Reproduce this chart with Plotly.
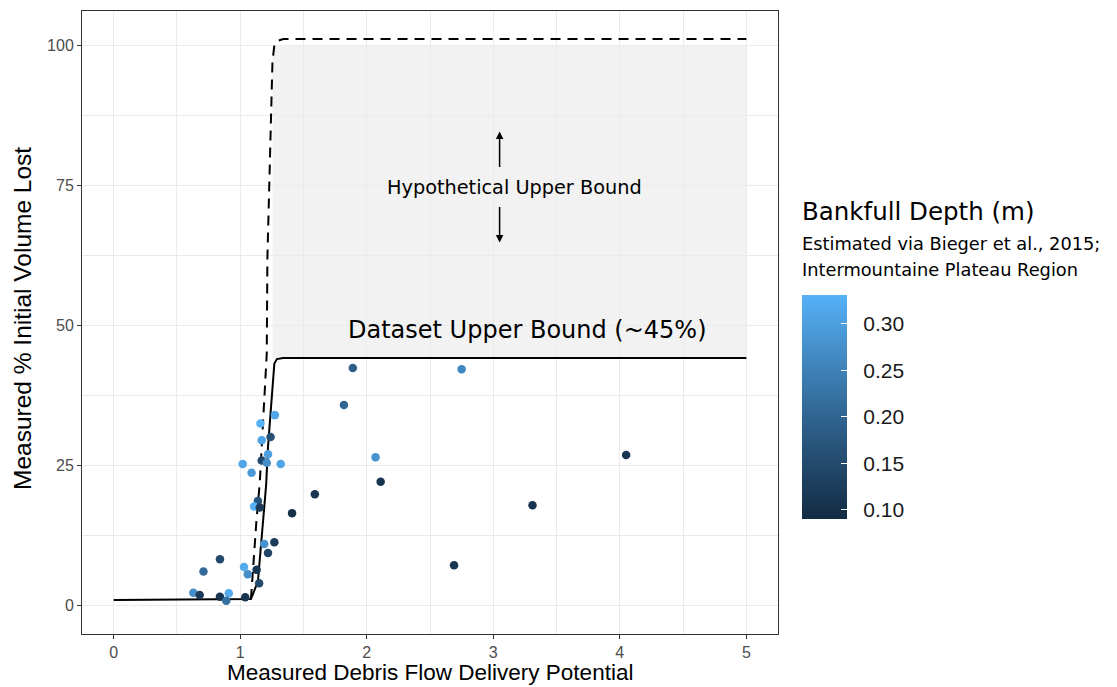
import plotly.graph_objects as go

# Measured points: delivery potential, % volume lost, bankfull depth (m)
delivery_potential = [2.75, 1.89, 1.82, 2.07, 2.11, 1.59, 1.41, 4.05, 3.31, 2.69,
                      1.274, 1.16, 1.17, 1.24, 1.22, 1.17, 1.21, 1.02, 1.32, 1.09,
                      1.14, 1.11, 1.155, 1.19, 1.27, 1.22, 1.03, 1.06, 1.13, 1.15,
                      0.91, 1.04, 0.84, 0.71, 0.63, 0.68, 0.84, 0.89]
volume_lost_pct = [42.2, 42.4, 35.8, 26.5, 22.1, 19.9, 16.5, 26.9, 17.9, 7.2,
                   34.0, 32.5, 29.5, 30.1, 27.0, 25.9, 25.5, 25.3, 25.3, 23.7,
                   18.7, 17.7, 17.5, 11.0, 11.3, 9.4, 6.9, 5.6, 6.4, 4.0,
                   2.2, 1.5, 8.3, 6.1, 2.3, 1.9, 1.6, 0.9]
bankfull_depth = [0.26, 0.19, 0.20, 0.28, 0.11, 0.11, 0.10, 0.11, 0.11, 0.11,
                  0.31, 0.33, 0.31, 0.16, 0.30, 0.15, 0.27, 0.31, 0.31, 0.29,
                  0.17, 0.33, 0.12, 0.28, 0.12, 0.14, 0.32, 0.27, 0.11, 0.15,
                  0.32, 0.11, 0.15, 0.21, 0.27, 0.12, 0.11, 0.22]

# Fitted dataset upper bound (~45%)
dataset_bound_x = [0, 1.085, 1.14, 1.163, 1.19, 1.205, 1.22, 1.248, 1.26, 1.27, 1.29, 1.34, 5]
dataset_bound_y = [1.0, 1.2, 4.3, 10.3, 16.2, 21.5, 28.4, 36.5, 40.0, 43.2, 44.0, 44.2, 44.2]

# Hypothetical upper bound (100%)
hypo_bound_x = [1.085, 1.094, 1.128, 1.155, 1.19, 1.21, 1.215, 1.235, 1.25, 1.255, 1.27, 1.30, 1.34, 5]
hypo_bound_y = [1.2, 4.3, 15.0, 22.0, 36.5, 45.0, 62.0, 80.0, 92.0, 97.0, 100.0, 100.8, 101.1, 101.1]

# Shaded band between the two bounds
band_x = [1.255, 5]
band_y = [44.2, 100]

x_ticks = [0, 1, 2, 3, 4, 5]
y_ticks = [0, 25, 50, 75, 100]
cbar_ticks = [0.10, 0.15, 0.20, 0.25, 0.30]

NBSP = "\u00a0"

fig = go.Figure()

fig.add_trace(go.Scatter(
    x=dataset_bound_x, y=dataset_bound_y, mode="lines",
    line=dict(color="black", width=2), hoverinfo="skip", showlegend=False))

fig.add_trace(go.Scatter(
    x=hypo_bound_x, y=hypo_bound_y, mode="lines",
    line=dict(color="black", width=2, dash="10px,7px"), hoverinfo="skip", showlegend=False))

fig.add_trace(go.Scatter(
    x=delivery_potential, y=volume_lost_pct, mode="markers",
    marker=dict(size=8.5, color=bankfull_depth, cmin=0.09, cmax=0.331,
                colorscale=[[0, "#132B43"], [0.5, "#336A98"], [1, "#56B1F7"]],
                line=dict(width=0),
                colorbar=dict(
                    thickness=45, len=224, lenmode="pixels",
                    x=1.0345, xanchor="left", y=0.3644, yanchor="middle",
                    outlinewidth=0, tickvals=cbar_ticks,
                    ticktext=[NBSP * 2 + f"{v:.2f}" for v in cbar_ticks],
                    ticks="inside", ticklen=6, tickcolor="white", tickwidth=1,
                    tickfont=dict(family="Liberation Sans", size=21, color="#1a1a1a"),
                    ypad=0, xpad=0)),
    showlegend=False))

fig.add_shape(type="rect", xref="x", yref="y",
              x0=band_x[0], x1=band_x[1], y0=band_y[0], y1=band_y[1],
              fillcolor="#F2F2F2", line=dict(width=0), layer="below")

annot_font = "DejaVu Sans"
fig.add_annotation(x=3.17, y=74.6, text="Hypothetical Upper Bound", showarrow=False,
                   font=dict(family=annot_font, size=19.3, color="black"))
fig.add_annotation(x=3.27, y=49.2, text="Dataset Upper Bound (~45%)", showarrow=False,
                   font=dict(family=annot_font, size=24, color="black"))
fig.add_annotation(x=3.05, y=84.6, ax=3.05, ay=78.0, axref="x", ayref="y", text="",
                   showarrow=True, arrowhead=2, arrowsize=1, arrowwidth=1.5, arrowcolor="black")
fig.add_annotation(x=3.05, y=64.8, ax=3.05, ay=71.4, axref="x", ayref="y", text="",
                   showarrow=True, arrowhead=2, arrowsize=1, arrowwidth=1.5, arrowcolor="black")

fig.add_annotation(xref="paper", yref="paper", x=1.0316, y=0.6774, xanchor="left",
                   yanchor="middle", text="Bankfull Depth (m)", showarrow=False,
                   font=dict(family=annot_font, size=24.5, color="black"))
fig.add_annotation(xref="paper", yref="paper", x=1.0316, y=0.6276, xanchor="left",
                   yanchor="middle", text="Estimated via Bieger et al., 2015;", showarrow=False,
                   font=dict(family=annot_font, size=17.8, color="black"))
fig.add_annotation(xref="paper", yref="paper", x=1.0316, y=0.5843, xanchor="left",
                   yanchor="middle", text="Intermountaine Plateau Region", showarrow=False,
                   font=dict(family=annot_font, size=17.8, color="black"))

# Axis titles
fig.add_annotation(xref="paper", yref="paper", x=0.5, y=-0.0835, xanchor="center",
                   yanchor="bottom", text="Measured Debris Flow Delivery Potential",
                   showarrow=False, borderpad=0,
                   font=dict(family="Liberation Sans", size=22.5, color="black"))
fig.add_annotation(xref="paper", yref="paper", x=-0.0862, y=0.5056, xanchor="center",
                   yanchor="middle", text="Measured % Initial Volume Lost", textangle=-90,
                   showarrow=False,
                   font=dict(family="Liberation Sans", size=24.5, color="black"))

axis_common = dict(
    showline=True, linecolor="#333333", linewidth=1, mirror=True,
    showgrid=True, gridcolor="#EBEBEB", gridwidth=1.1, zeroline=False,
    ticks="outside", ticklen=4, tickcolor="#333333", tickwidth=1,
    tickfont=dict(family="Liberation Sans", size=16, color="#4D4D4D"),
    automargin=False,
)

fig.update_xaxes(range=[-0.25, 5.25], tickvals=x_ticks,
                 minor=dict(dtick=0.5, tick0=0, showgrid=True, gridcolor="#EBEBEB", gridwidth=0.6),
                 **axis_common)
fig.update_yaxes(range=[-5.05, 106.1], tickvals=y_ticks,
                 minor=dict(dtick=12.5, tick0=0, showgrid=True, gridcolor="#EBEBEB", gridwidth=0.6),
                 **axis_common)

fig.update_layout(
    width=1117, height=687,
    margin=dict(l=82, r=339, t=11, b=53),
    paper_bgcolor="white", plot_bgcolor="white",
)

fig.write_html("out.html")
